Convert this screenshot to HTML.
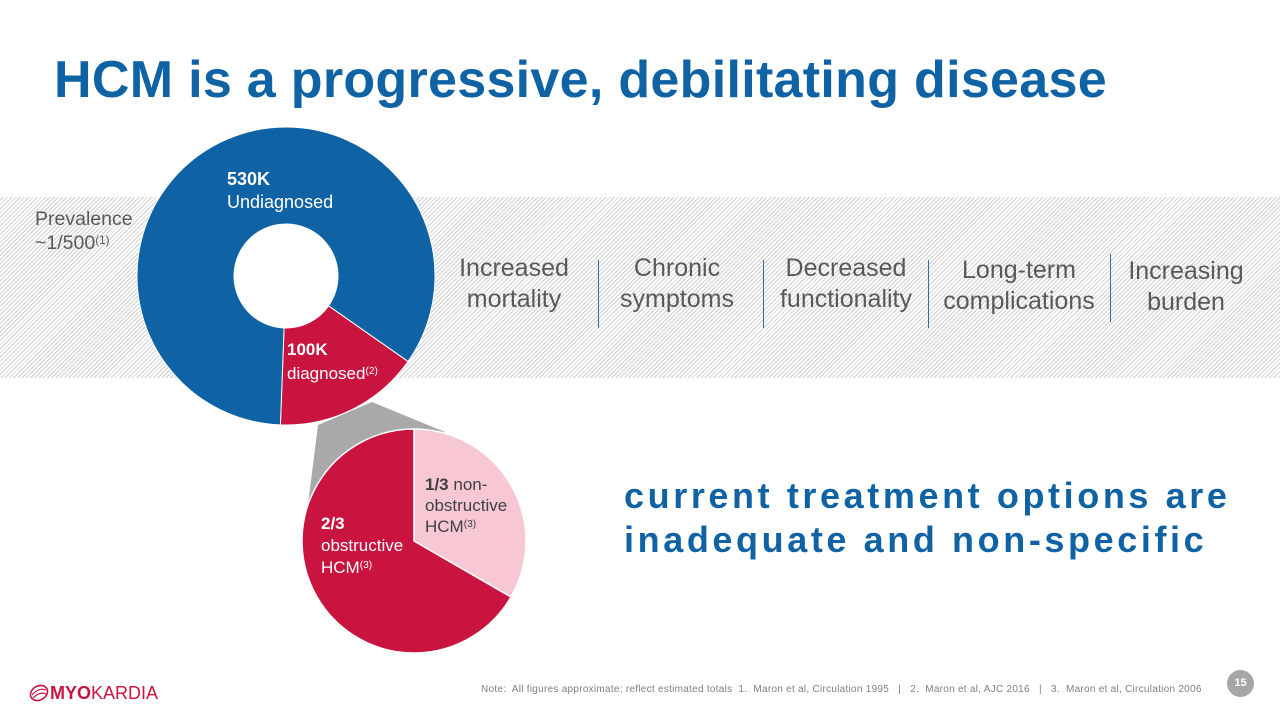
<!DOCTYPE html>
<html><head><meta charset="utf-8"><style>
body{margin:0;width:1280px;height:720px;position:relative;overflow:hidden;background:#fff;font-family:"Liberation Sans",sans-serif;}
.abs{position:absolute}
.band{left:0;top:197px;width:1280px;height:181px;background:repeating-linear-gradient(135deg,#fff 0,#fff 2px,#cfcfcf 2px,#cfcfcf 3px);}
.item{position:absolute;top:253px;font-size:25px;color:#595959;text-align:center;line-height:31px}
.sep{position:absolute;width:1px;background:#2e6ea6;top:260px;height:68px}
sup{font-size:60%;vertical-align:top;position:relative;top:-2px}
</style></head><body>
<div class="abs band"></div>
<div class="abs" style="left:54px;top:50px;font-size:52px;font-weight:bold;color:#0f62a3;letter-spacing:0.3px">HCM is a progressive, debilitating disease</div>
<div class="abs" style="left:35px;top:207px;font-size:19.5px;color:#595959;line-height:24px;">Prevalence<br>~1/500<sup>(1)</sup></div>
<svg class="abs" style="left:0;top:0" width="1280" height="720" id="svg"></svg>
<div class="abs" style="left:227px;top:168px;font-size:18px;color:#fff;line-height:23px"><b>530K</b><br>Undiagnosed</div>
<div class="abs" style="left:287px;top:338px;font-size:17px;color:#fff;line-height:24px"><b>100K</b><br>diagnosed<sup>(2)</sup></div>
<div class="abs" style="left:321px;top:513px;font-size:17px;color:#fff;line-height:22px"><b>2/3</b><br>obstructive<br>HCM<sup>(3)</sup></div>
<div class="abs" style="left:425px;top:474px;font-size:17px;color:#404040;line-height:21px"><b>1/3</b> non-<br>obstructive<br>HCM<sup>(3)</sup></div>
<div class="item" style="left:448px;width:132px">Increased<br>mortality</div>
<div class="sep" style="left:598px"></div>
<div class="item" style="left:608px;width:138px">Chronic<br>symptoms</div>
<div class="sep" style="left:763px"></div>
<div class="item" style="left:770px;width:152px">Decreased<br>functionality</div>
<div class="sep" style="left:928px"></div>
<div class="item" style="left:934px;width:170px;top:255px">Long-term<br>complications</div>
<div class="sep" style="left:1110px;top:254px"></div>
<div class="item" style="left:1116px;width:140px;top:256px">Increasing<br>burden</div>
<div class="abs" style="left:624px;top:474px;font-size:36px;font-weight:bold;color:#0f62a3;letter-spacing:3.6px;line-height:44px">current treatment options are<br>inadequate and non-specific</div>
<div class="abs" style="left:28px;top:682px;font-size:18px;color:#c8143f;">
<svg width="22" height="22" style="vertical-align:-5px"><ellipse cx="11" cy="11" rx="9" ry="7" fill="none" stroke="#c8143f" stroke-width="1.6" transform="rotate(-30 11 11)"/><path d="M4 13 Q11 5 18 8 M5 16 Q12 9 18 12" fill="none" stroke="#c8143f" stroke-width="1.2"/></svg><b>MYO</b>KARDIA</div>
<div class="abs" style="left:481px;top:684px;font-size:10px;color:#7f7f7f;letter-spacing:0.27px">Note:&nbsp; All figures approximate; reflect estimated totals&nbsp; 1.&nbsp; Maron et al, Circulation 1995&nbsp;&nbsp; |&nbsp;&nbsp; 2.&nbsp; Maron et al, AJC 2016&nbsp;&nbsp; |&nbsp;&nbsp; 3.&nbsp; Maron et al, Circulation 2006</div>
<div class="abs" style="left:1227px;top:670px;width:27px;height:27px;border-radius:50%;background:#a6a6a6;color:#fff;font-size:11px;font-weight:bold;text-align:center;line-height:27px">15</div>
<script>
const donutCategories=['Diagnosed','Undiagnosed'];
const donutValues=[100,530];
const pieCategories=['Non-obstructive','Obstructive'];
const pieValues=[1,2];
const svg=document.getElementById('svg');
const NS='http://www.w3.org/2000/svg';
function pt(cx,cy,r,a){const t=(a-90)*Math.PI/180;return [cx+r*Math.cos(t),cy+r*Math.sin(t)];}
function arc(cx,cy,r0,r1,a0,a1){const l=(a1-a0)>180?1:0;const p=pt(cx,cy,r1,a0),q=pt(cx,cy,r1,a1);
 if(r0===0)return `M${cx},${cy}L${p}A${r1},${r1} 0 ${l} 1 ${q}Z`;
 const s=pt(cx,cy,r0,a1),e=pt(cx,cy,r0,a0);
 return `M${p}A${r1},${r1} 0 ${l} 1 ${q}L${s}A${r0},${r0} 0 ${l} 0 ${e}Z`;}
const conn=document.createElementNS(NS,'polygon');
conn.setAttribute('points','318,425 372,402 445,432 306,520');
conn.setAttribute('fill','#a9a9a9');


svg.appendChild(conn);
const hole=document.createElementNS(NS,'circle');
hole.setAttribute('cx','286');hole.setAttribute('cy','276');hole.setAttribute('r','53');hole.setAttribute('fill','#fff');


svg.appendChild(hole);
const dTot=donutValues.reduce((a,b)=>a+b,0);
const dColors=['#c8143f','#0f62a3'];
let cur=125;
donutValues.forEach((v,i)=>{const sw=360*v/dTot;const p=document.createElementNS(NS,'path');
 p.setAttribute('d',arc(286,276,52,149,cur,cur+sw));p.setAttribute('fill',dColors[i]);p.setAttribute('stroke','#fff');p.setAttribute('stroke-width','1');
 
 
 svg.appendChild(p);cur+=sw;});
const pTot=pieValues.reduce((a,b)=>a+b,0);
const pColors=['#f7c8d4','#c8143f'];
cur=0;
pieValues.forEach((v,i)=>{const sw=360*v/pTot;const p=document.createElementNS(NS,'path');
 p.setAttribute('d',arc(414,541,0,112,cur,cur+sw));p.setAttribute('fill',pColors[i]);p.setAttribute('stroke','#fff');p.setAttribute('stroke-width','1.5');
 
 
 svg.appendChild(p);cur+=sw;});
</script>
</body></html>
